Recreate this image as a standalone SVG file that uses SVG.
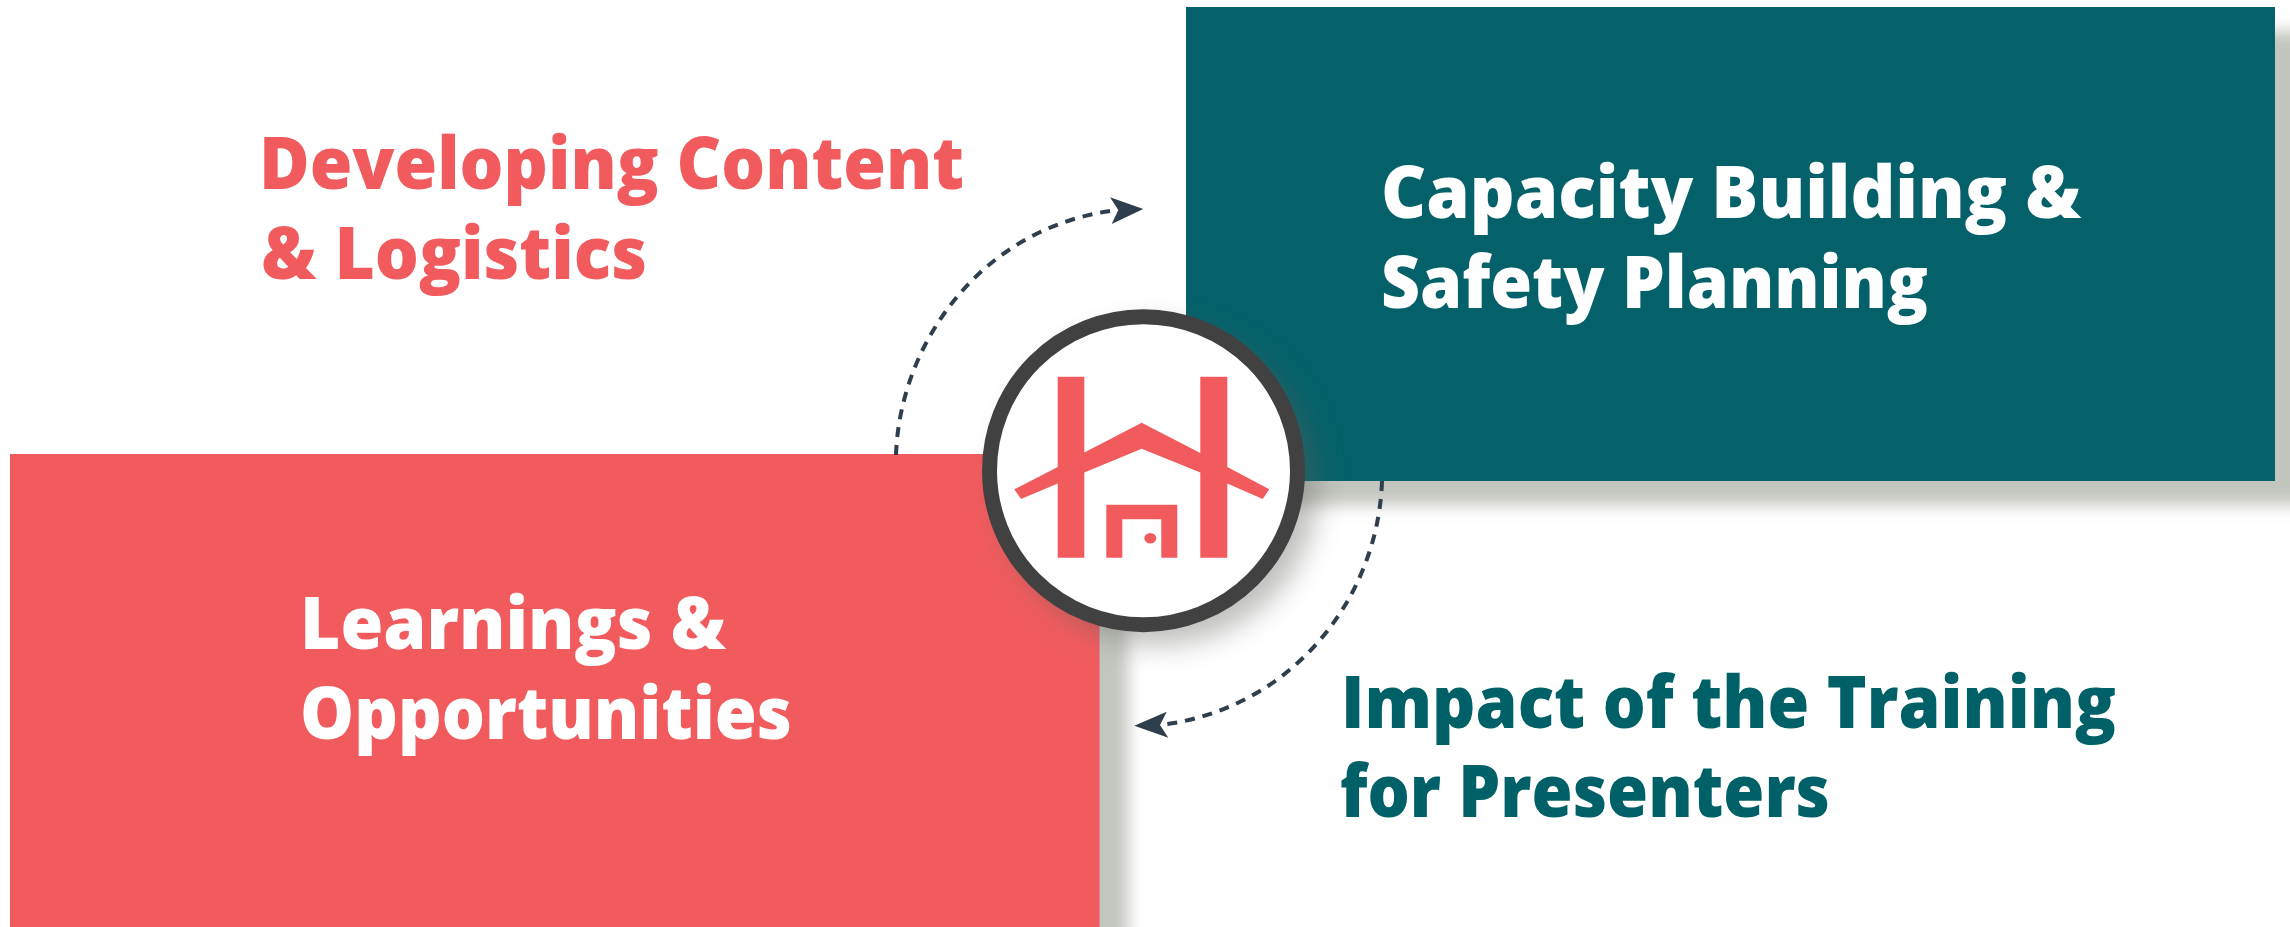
<svg xmlns="http://www.w3.org/2000/svg" width="2290" height="927" viewBox="0 0 2290 927">
<style>
.t{font-family:"Open Sans","Noto Sans",sans-serif;font-weight:800;font-size:73px}
.r{fill:#f25b5e}.g{fill:#04616a}.w{fill:#fff}
.c{fill:none;stroke:#2e3e4c;stroke-width:4;stroke-dasharray:10 8}
.h{fill:#2e3e4c}
.s{fill:#c3c5bf;filter:url(#b)}
</style>
<defs>
<filter id="b" x="-10%" y="-10%" width="120%" height="120%"><feGaussianBlur stdDeviation="8"/></filter>
<filter id="cs" x="-30%" y="-30%" width="160%" height="160%"><feGaussianBlur stdDeviation="14"/></filter>
</defs>
<rect width="2290" height="927" fill="#fff"/>
<g id="node-capacity">
<rect class="s" x="1210" y="31" width="1100" height="474"/>
<rect class="g" x="1186" y="7" width="1089" height="474"/>
<text class="t w" x="1381" y="218" textLength="700" lengthAdjust="spacingAndGlyphs">Capacity Building &amp;</text>
<text class="t w" x="1381" y="308" textLength="547" lengthAdjust="spacingAndGlyphs">Safety Planning</text>
</g>
<g id="node-learnings">
<rect class="s" x="30" y="478" width="1098" height="480"/>
<rect class="r" x="10" y="454" width="1089.5" height="473"/>
<text class="t w" x="300" y="649" textLength="426" lengthAdjust="spacingAndGlyphs">Learnings &amp;</text>
<text class="t w" x="300" y="739" textLength="492" lengthAdjust="spacingAndGlyphs">Opportunities</text>
</g>
<g id="node-developing">
<text class="t r" x="259" y="189" textLength="705" lengthAdjust="spacingAndGlyphs">Developing Content</text>
<text class="t r" x="261" y="279" textLength="386" lengthAdjust="spacingAndGlyphs">&amp; Logistics</text>
</g>
<g id="node-impact">
<text class="t" fill="#006067" x="1341" y="728" textLength="775" lengthAdjust="spacingAndGlyphs">Impact of the Training</text>
<text class="t" fill="#006067" x="1340" y="817" textLength="490" lengthAdjust="spacingAndGlyphs">for Presenters</text>
</g>
<g id="connectors">
<path class="c" d="M896 455C900 340 985 225 1118 210"/>
<path class="h" d="M1143.3 209L1110 197.3L1118.3 210L1111.7 224Z"/>
<path class="c" d="M1382 481C1378 600 1290 710 1160 725"/>
<path class="h" d="M1134.3 725.7L1166.7 711.7L1160 725L1168.3 737.7Z"/>
</g>
<g id="node-logo">
<circle cx="1158" cy="485" r="160" fill="#5d6159" opacity=".4" filter="url(#cs)"/>
<circle cx="1143.5" cy="470.7" r="154" fill="#fff" stroke="#414141" stroke-width="15"/>
<path class="r" d="M1057.7 376.7H1084.3V452.5L1141.7 422.7L1200.3 453V376.7H1227.3V467L1269.3 489.3L1262.7 499L1227.3 483.5V557.7H1200.3V472.5L1141.7 448.7L1084.3 472.5V557.7H1057.7V483.5L1021 499L1014.3 489.3L1057.7 467Z"/>
<path class="r" d="M1106.3 557.7V504.7H1177.3V557.7H1161.3V519.3H1122.3V557.7Z"/>
<ellipse class="r" cx="1150.3" cy="538.3" rx="6" ry="5.3"/>
</g>
</svg>
